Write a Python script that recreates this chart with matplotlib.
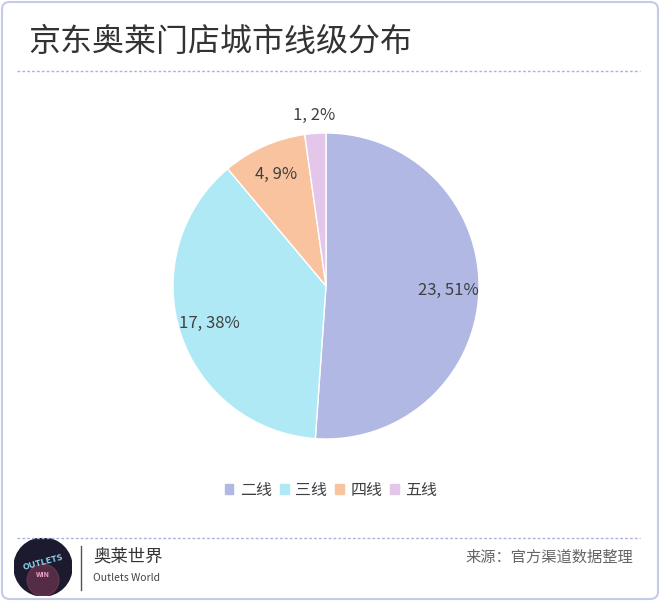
import matplotlib.pyplot as plt
import numpy as np
from matplotlib.patches import FancyBboxPatch, Circle
from matplotlib.lines import Line2D

plt.rcParams['font.family'] = ['Noto Sans CJK SC', 'DejaVu Sans']

# data
tiers = ['二线', '三线', '四线', '五线']
counts = [23, 17, 4, 1]
colors = ['#b0b8e3', '#aee9f5', '#f9c3a0', '#e3c6ea']
title = '京东奥莱门店城市线级分布'
source = '来源：官方渠道数据整理'

W, H = 660, 601
fig = plt.figure(figsize=(W / 100, H / 100), dpi=100)

# frame
fig.patches.append(FancyBboxPatch((2 / W, 2 / H), 1 - 4 / W, 1 - 4 / H,
                                  boxstyle='round,pad=0,rounding_size=0.012',
                                  transform=fig.transFigure, fill=False,
                                  edgecolor='#c5cbe6', linewidth=1.5))

fig.text(28 / W, 1 - 42 / H, title, fontsize=23, color='#333333',
         ha='left', va='center')
for yy in (71, 538):
    fig.lines.append(Line2D([17 / W, 640 / W], [1 - yy / H, 1 - yy / H],
                            transform=fig.transFigure, color='#a8b4dc',
                            linestyle=(0, (2, 1.5)), linewidth=1))

# pie
cx, cy, r = 326, 286, 153
ax = fig.add_axes([(cx - r) / W, (H - cy - r) / H, 2 * r / W, 2 * r / H])
wedges, _ = ax.pie(counts, colors=colors, startangle=90, counterclock=False,
                   radius=1, wedgeprops=dict(edgecolor='white', linewidth=1))
ax.set_xlim(-1, 1)
ax.set_ylim(-1, 1)
ax.axis('off')

total = sum(counts)
for i, w in enumerate(wedges):
    ang = np.deg2rad((w.theta1 + w.theta2) / 2)
    dist = 1.12 if counts[i] / total < 0.05 else 0.8
    ax.text(dist * np.cos(ang), dist * np.sin(ang),
            f'{counts[i]}, {round(counts[i] / total * 100)}%',
            ha='center', va='center', fontsize=12, color='#404040')

# legend
handles = [plt.Rectangle((0, 0), 1, 1, color=c) for c in colors]
fig.legend(handles, tiers, loc='center', bbox_to_anchor=(331 / W, 1 - 490 / H),
           ncol=4, frameon=False, fontsize=11.5, handlelength=0.55,
           handleheight=0.55, handletextpad=0.4, columnspacing=0.5,
           labelcolor='#404040')

# footer
logo = fig.add_axes([14 / W, 1 - 596 / H, 58 / W, 58 / H])
logo.add_patch(Circle((0, 0), 1, color='#1c1a2e'))
logo.add_patch(Circle((0, -0.45), 0.55, color='#7a3a55', alpha=0.6))
logo.text(0, 0.15, 'OUTLETS', ha='center', va='center', fontsize=6.5,
          color='#8fd3f0', fontweight='bold', rotation=15)
logo.text(0, -0.25, 'WIN', ha='center', va='center', fontsize=5,
          color='#f0a0d0', fontweight='bold')
logo.set_xlim(-1, 1)
logo.set_ylim(-1, 1)
logo.set_aspect('equal')
logo.axis('off')

fig.lines.append(Line2D([81 / W, 81 / W], [1 - 546 / H, 1 - 590 / H],
                        transform=fig.transFigure, color='#555555', linewidth=1))
fig.text(93 / W, 1 - 557 / H, '奥莱世界', fontsize=12.5, color='#333333',
         ha='left', va='center')
fig.text(93 / W, 1 - 578 / H, 'Outlets World', fontsize=7.5, color='#444444',
         ha='left', va='center')
fig.text(633 / W, 1 - 557 / H, source, fontsize=11, color='#666666',
         ha='right', va='center')

fig.savefig('out.png', dpi=100, facecolor='white')
